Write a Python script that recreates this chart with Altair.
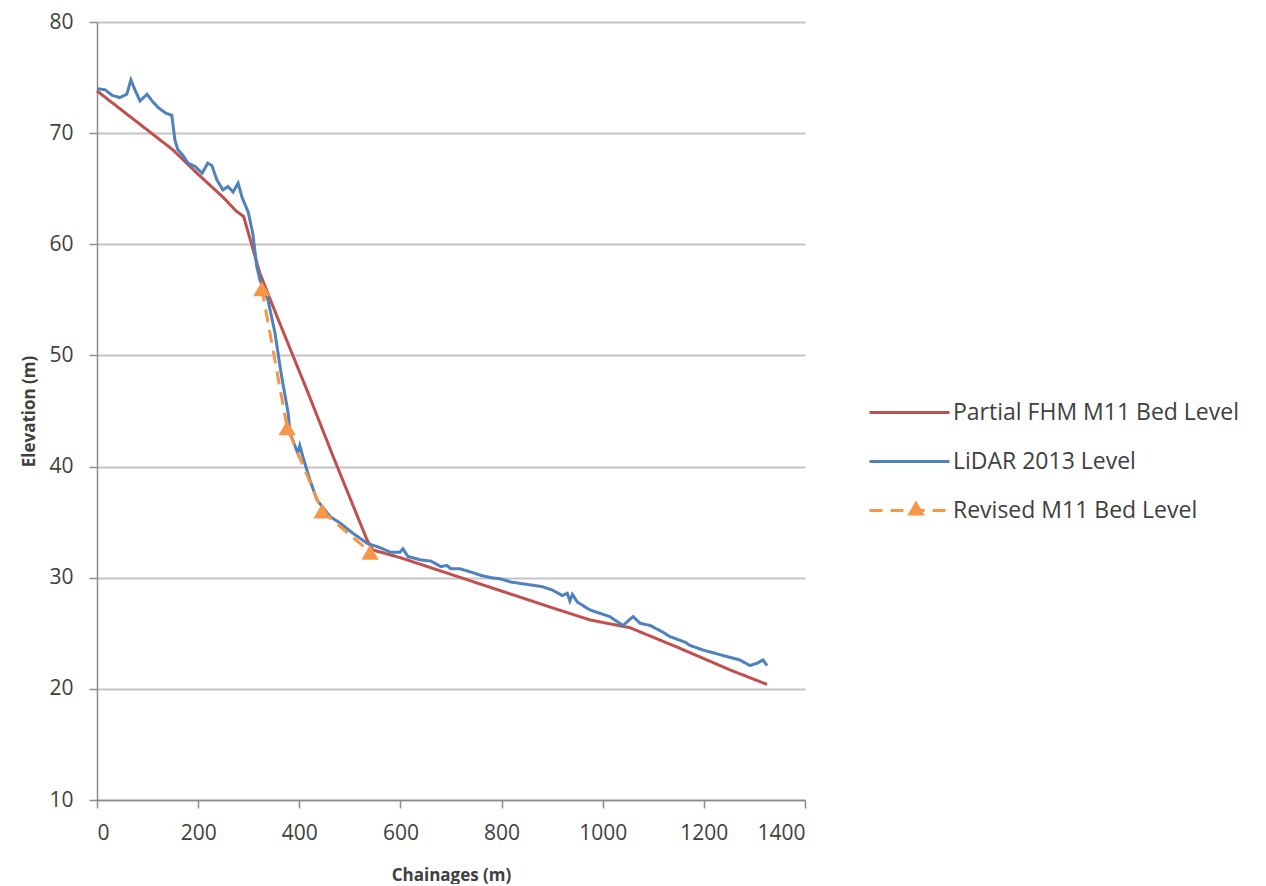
import altair as alt
import pandas as pd

SERIES = ["Partial FHM M11 Bed Level", "LiDAR 2013 Level", "Revised M11 Bed Level"]
COLORS = ["#C0504D", "#4F81BD", "#F79646"]

red_x = [0, 150, 200, 250, 275, 290, 322, 356, 415, 467, 534, 545, 600, 700, 800, 900, 975, 1054, 1150, 1252, 1325]
red_y = [73.8, 68.5, 66.3, 64.2, 63.0, 62.5, 57.4, 53.5, 46.9, 40.9, 33.4, 32.5, 31.8, 30.3, 28.8, 27.3, 26.2, 25.5, 23.7, 21.7, 20.4]

blue_x = [0, 16, 30, 45, 59, 67, 75, 85, 99, 109, 121, 136, 148, 154, 160, 170, 180, 194, 208, 219,
          227, 237, 249, 259, 269, 279, 287, 299, 308, 316, 322, 338, 352, 364, 378, 382, 392, 397, 401, 407,
          421, 435, 461, 481, 506, 534, 560, 580, 599, 605, 615, 640, 660, 680, 692, 700, 718, 740, 760, 780,
          797, 820, 850, 880, 900, 920, 930, 935, 940, 950, 975, 1014, 1040, 1060, 1074, 1094, 1119, 1133, 1163, 1173,
          1198, 1238, 1271, 1291, 1305, 1317, 1325]
blue_y = [74.0, 73.9, 73.4, 73.2, 73.5, 74.8, 73.9, 72.9, 73.5, 72.9, 72.3, 71.8, 71.6, 69.4, 68.5, 68.0, 67.3, 67.0, 66.4, 67.3,
          67.1, 65.8, 64.9, 65.2, 64.7, 65.5, 64.2, 62.9, 61.0, 58.0, 56.8, 55.0, 52.0, 48.4, 44.8, 43.0, 41.8, 41.2, 41.9, 40.9,
          38.8, 37.0, 35.5, 34.9, 34.0, 33.1, 32.7, 32.3, 32.3, 32.6, 31.9, 31.6, 31.5, 31.0, 31.1, 30.8, 30.8, 30.5, 30.2, 30.0,
          29.9, 29.6, 29.4, 29.2, 28.9, 28.4, 28.6, 27.9, 28.5, 27.8, 27.1, 26.5, 25.7, 26.5, 25.9, 25.7, 25.1, 24.7, 24.2, 23.9,
          23.5, 23.0, 22.6, 22.1, 22.3, 22.6, 22.1]

rev_x = [326, 376, 445, 540]
rev_y = [56.0, 43.5, 36.0, 32.3]

assert len(red_x) == len(red_y) and len(blue_x) == len(blue_y) and len(rev_x) == len(rev_y)

df_red = pd.DataFrame({"x": red_x, "y": red_y, "series": SERIES[0], "order": range(len(red_x))})
df_blue = pd.DataFrame({"x": blue_x, "y": blue_y, "series": SERIES[1], "order": range(len(blue_x))})
df_rev = pd.DataFrame({"x": rev_x, "y": rev_y, "series": SERIES[2], "marker": SERIES[2], "order": range(len(rev_x))})

FONT = "Open Sans"
TXT = "#404040"

main_legend = alt.Legend(
    title=None, orient="none", legendX=791, legendY=369,
    labelFontSize=23, labelFont=FONT, labelColor=TXT, labelOffset=22,
    symbolType="M-2,0H2", symbolSize=1600, symbolStrokeWidth=3, rowPadding=15, labelLimit=400,
    symbolOpacity=1,
)

color = alt.Color("series:N", scale=alt.Scale(domain=SERIES, range=COLORS), legend=main_legend)
dash = alt.StrokeDash("series:N", scale=alt.Scale(domain=SERIES, range=[[1, 0], [1, 0], [13, 8]]), legend=main_legend)

marker_legend = alt.Legend(
    title=None, orient="none", legendX=810, legendY=477,
    symbolType="triangle-up", symbolSize=300, symbolFillColor="#F79646", symbolStrokeColor="#F79646",
    symbolStrokeWidth=0, symbolOpacity=1, labelExpr="''", labelFontSize=1,
)
shape = alt.Shape("marker:N", scale=alt.Scale(domain=[SERIES[2]], range=["triangle-up"]), legend=marker_legend)

xenc = alt.X("x:Q", scale=alt.Scale(domain=[0, 1400], nice=False),
             axis=alt.Axis(values=list(range(0, 1401, 200)), format="d", title="Chainages (m)", grid=False,
                           tickSize=8, labelPadding=14, titlePadding=24))
yenc = alt.Y("y:Q", scale=alt.Scale(domain=[10, 80], nice=False),
             axis=alt.Axis(values=list(range(10, 81, 10)), format="d", title="Elevation (m)", grid=True,
                           tickSize=8, labelPadding=16, titlePadding=10))

line_red = alt.Chart(df_red).mark_line(strokeWidth=3).encode(x=xenc, y=yenc, color=color, strokeDash=dash, order="order:Q")
line_blue = alt.Chart(df_blue).mark_line(strokeWidth=3).encode(x=xenc, y=yenc, color=color, strokeDash=dash, order="order:Q")
line_rev = alt.Chart(df_rev).mark_line(strokeWidth=3).encode(x=xenc, y=yenc, color=color, strokeDash=dash, order="order:Q")
rev_pts = alt.Chart(df_rev).mark_point(size=300, filled=True, opacity=1, color="#F79646").encode(x=xenc, y=yenc, shape=shape)

chart = alt.layer(line_red, line_blue, line_rev, rev_pts).properties(
    width=708, height=778,
    autosize=alt.AutoSizeParams(type="none"),
    padding={"left": 89, "top": 14, "right": 440, "bottom": 84},
).configure_axis(
    labelFont=FONT, labelFontSize=21, labelColor=TXT,
    titleFont=FONT, titleFontSize=17, titleFontWeight="bold", titleColor=TXT,
    domainColor="#8c8c8c", domainWidth=1.5, tickColor="#8c8c8c", tickWidth=1.5,
    gridColor="#c4c4c4", gridWidth=1.8,
).configure_view(stroke=None).configure_legend(labelFont=FONT)

chart.save("out.html", embed_options={"renderer": "svg", "actions": False})
